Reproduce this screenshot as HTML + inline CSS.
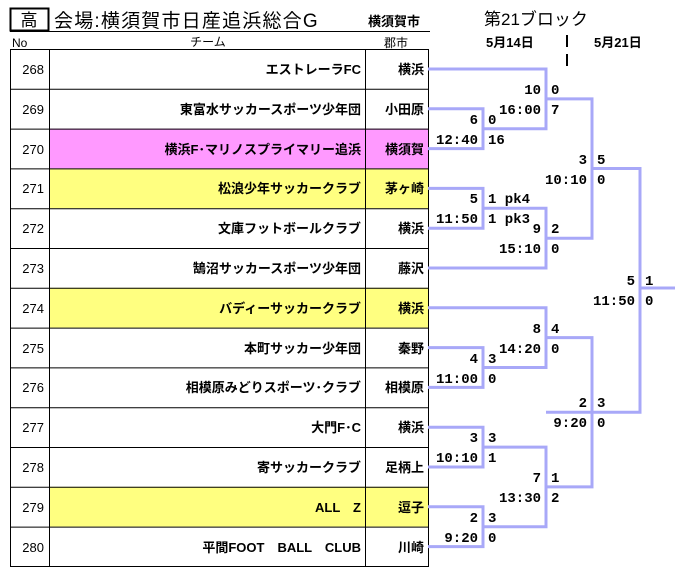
<!DOCTYPE html>
<html><head><meta charset="utf-8"><style>
html,body{margin:0;padding:0;background:#fff;width:684px;height:573px;overflow:hidden}
svg{display:block}
.j{font-family:"Liberation Sans","Noto Sans CJK JP",sans-serif}
.m{font-family:"Liberation Mono","Noto Sans CJK JP",monospace;font-weight:bold;font-size:14px}
.tm{font-weight:bold;font-size:13px}
.n{font-size:13px}
</style></head><body>
<svg width="684" height="573" xmlns="http://www.w3.org/2000/svg">
<rect x="10.5" y="8.5" width="38" height="22" fill="#fff" stroke="#000" stroke-width="2"/>
<text x="29" y="26" class="j" font-size="17" text-anchor="middle">高</text>
<text x="54" y="27" class="j" font-size="19" letter-spacing="1.2">会場:横須賀市日産追浜総合G</text>
<text x="368" y="26" class="j" font-size="13" font-weight="bold">横須賀市</text>
<line x1="10" y1="31.5" x2="430" y2="31.5" stroke="#000"/>
<text x="484" y="25" class="j" font-size="17">第21ブロック</text>
<text x="486" y="47" class="j" font-size="13" font-weight="bold">5月14日</text>
<text x="594" y="47" class="j" font-size="13" font-weight="bold">5月21日</text>
<line x1="567" y1="35" x2="567" y2="47" stroke="#000" stroke-width="2"/>
<line x1="567" y1="54" x2="567" y2="66" stroke="#000" stroke-width="2"/>
<text x="12" y="47" class="j" font-size="12">No</text>
<text x="208" y="46" class="j" font-size="12" text-anchor="middle">チーム</text>
<text x="396" y="47" class="j" font-size="12" text-anchor="middle">郡市</text>
<rect x="50" y="128.6" width="378" height="39.8" fill="#ff99ff"/>
<rect x="50" y="168.4" width="378" height="39.8" fill="#ffff80"/>
<rect x="50" y="287.8" width="378" height="39.8" fill="#ffff80"/>
<rect x="50" y="486.8" width="378" height="39.8" fill="#ffff80"/>
<g stroke="#000" stroke-width="1">
<rect x="10.5" y="49.5" width="418" height="517" fill="none"/>
<line x1="49.5" y1="49" x2="49.5" y2="567"/>
<line x1="365.5" y1="49" x2="365.5" y2="567"/>
<line x1="10" y1="89.3" x2="428" y2="89.3"/>
<line x1="10" y1="129.1" x2="428" y2="129.1"/>
<line x1="10" y1="168.9" x2="428" y2="168.9"/>
<line x1="10" y1="208.7" x2="428" y2="208.7"/>
<line x1="10" y1="248.5" x2="428" y2="248.5"/>
<line x1="10" y1="288.3" x2="428" y2="288.3"/>
<line x1="10" y1="328.1" x2="428" y2="328.1"/>
<line x1="10" y1="367.9" x2="428" y2="367.9"/>
<line x1="10" y1="407.7" x2="428" y2="407.7"/>
<line x1="10" y1="447.5" x2="428" y2="447.5"/>
<line x1="10" y1="487.3" x2="428" y2="487.3"/>
<line x1="10" y1="527.1" x2="428" y2="527.1"/>
</g>
<g class="j n" text-anchor="end">
<text x="44" y="74">268</text><text x="44" y="114">269</text><text x="44" y="154">270</text><text x="44" y="193">271</text><text x="44" y="233">272</text><text x="44" y="273">273</text><text x="44" y="313">274</text><text x="44" y="353">275</text><text x="44" y="392">276</text><text x="44" y="432">277</text><text x="44" y="472">278</text><text x="44" y="512">279</text><text x="44" y="552">280</text>
</g>
<g class="j tm" text-anchor="end">
<text x="361" y="74">エストレーラFC</text>
<text x="361" y="114">東富水サッカースポーツ少年団</text>
<text x="361" y="154">横浜F･マリノスプライマリー追浜</text>
<text x="361" y="193">松浪少年サッカークラブ</text>
<text x="361" y="233">文庫フットボールクラブ</text>
<text x="361" y="273">鵠沼サッカースポーツ少年団</text>
<text x="361" y="313">バディーサッカークラブ</text>
<text x="361" y="353">本町サッカー少年団</text>
<text x="361" y="392">相模原みどりスポーツ･クラブ</text>
<text x="361" y="432">大門F･C</text>
<text x="361" y="472">寄サッカークラブ</text>
<text x="361" y="512">ALL　Z</text>
<text x="361" y="552">平間FOOT　BALL　CLUB</text>
<text x="424" y="74">横浜</text><text x="424" y="114">小田原</text><text x="424" y="154">横須賀</text><text x="424" y="193">茅ヶ崎</text><text x="424" y="233">横浜</text><text x="424" y="273">藤沢</text><text x="424" y="313">横浜</text><text x="424" y="353">秦野</text><text x="424" y="392">相模原</text><text x="424" y="432">横浜</text><text x="424" y="472">足柄上</text><text x="424" y="512">逗子</text><text x="424" y="552">川崎</text>
</g>
<g fill="none" stroke="#a8a8f8" stroke-width="3">
<path d="M428 108.8H483V148.6H428"/>
<path d="M428 69H546V128.7H483"/>
<path d="M428 188.4H483V228.2H428"/>
<path d="M483 208.3H546V268H428"/>
<path d="M546 98.9H592V238.2H546"/>
<path d="M428 347.6H483V387.4H428"/>
<path d="M428 307.8H546V367.5H483"/>
<path d="M428 427.2H483V467H428"/>
<path d="M428 506.8H483V546.6H428"/>
<path d="M483 447.1H546V526.7H483"/>
<path d="M546 337.6H592V412.3H546"/>
<path d="M546 486.9H592V412.3"/>
<path d="M592 168.5H640V412.3H592"/>
<path d="M640 288H675"/>
</g>
<g class="m" text-anchor="end">
<text x="478" y="124">6</text><text x="478" y="144">12:40</text>
<text x="541" y="94">10</text><text x="541" y="114">16:00</text>
<text x="478" y="203">5</text><text x="478" y="223">11:50</text>
<text x="541" y="233">9</text><text x="541" y="253">15:10</text>
<text x="587" y="164">3</text><text x="587" y="184">10:10</text>
<text x="478" y="363">4</text><text x="478" y="383">11:00</text>
<text x="541" y="333">8</text><text x="541" y="353">14:20</text>
<text x="478" y="442">3</text><text x="478" y="462">10:10</text>
<text x="478" y="522">2</text><text x="478" y="542">9:20</text>
<text x="541" y="482">7</text><text x="541" y="502">13:30</text>
<text x="587" y="407">2</text><text x="587" y="427">9:20</text>
<text x="635" y="285">5</text><text x="635" y="305">11:50</text>
</g>
<g class="m">
<text x="488" y="124">0</text><text x="488" y="144">16</text>
<text x="551" y="94">0</text><text x="551" y="114">7</text>
<text x="488" y="203">1 pk4</text><text x="488" y="223">1 pk3</text>
<text x="551" y="233">2</text><text x="551" y="253">0</text>
<text x="597" y="164">5</text><text x="597" y="184">0</text>
<text x="488" y="363">3</text><text x="488" y="383">0</text>
<text x="551" y="333">4</text><text x="551" y="353">0</text>
<text x="488" y="442">3</text><text x="488" y="462">1</text>
<text x="488" y="522">3</text><text x="488" y="542">0</text>
<text x="551" y="482">1</text><text x="551" y="502">2</text>
<text x="597" y="407">3</text><text x="597" y="427">0</text>
<text x="645" y="285">1</text><text x="645" y="305">0</text>
</g>
</svg>
</body></html>
